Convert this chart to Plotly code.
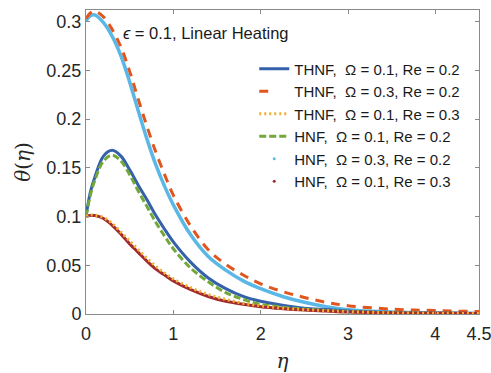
import plotly.graph_objects as go

eta = [0, 0.05, 0.1, 0.2, 0.3, 0.4, 0.5, 0.6, 0.7, 0.8, 0.9, 1.0, 1.2, 1.4, 1.6, 1.8, 2.0, 2.25, 2.5, 2.75, 3.0, 3.5, 4.0, 4.5]

thnf_o01_re02 = [0.100, 0.125, 0.140, 0.162, 0.168, 0.162, 0.148, 0.132, 0.117, 0.101, 0.087, 0.074, 0.053, 0.037, 0.026, 0.018, 0.013, 0.009, 0.006, 0.0045, 0.003, 0.0015, 0.001, 0.0005]
thnf_o03_re02 = [0.303, 0.309, 0.311, 0.305, 0.292, 0.274, 0.249, 0.220, 0.192, 0.166, 0.143, 0.122, 0.090, 0.066, 0.051, 0.040, 0.031, 0.023, 0.017, 0.012, 0.0085, 0.005, 0.0035, 0.0025]
thnf_o01_re03 = [0.100, 0.1015, 0.1015, 0.099, 0.093, 0.084, 0.075, 0.066, 0.057, 0.049, 0.042, 0.036, 0.027, 0.020, 0.015, 0.011, 0.0085, 0.006, 0.0045, 0.0035, 0.0025, 0.0012, 0.0008, 0.0005]
hnf_o01_re02 = [0.100, 0.122, 0.137, 0.157, 0.163, 0.157, 0.143, 0.126, 0.110, 0.094, 0.080, 0.067, 0.047, 0.033, 0.022, 0.015, 0.010, 0.007, 0.005, 0.0035, 0.0025, 0.0012, 0.0008, 0.0005]
hnf_o03_re02 = [0.301, 0.306, 0.307, 0.299, 0.285, 0.265, 0.238, 0.208, 0.179, 0.153, 0.131, 0.112, 0.081, 0.059, 0.045, 0.034, 0.026, 0.018, 0.012, 0.0075, 0.0045, 0.002, 0.001, 0.0005]
hnf_o01_re03 = [0.100, 0.101, 0.101, 0.098, 0.091, 0.082, 0.072, 0.063, 0.054, 0.046, 0.040, 0.034, 0.025, 0.018, 0.013, 0.010, 0.0075, 0.0055, 0.004, 0.003, 0.002, 0.001, 0.0007, 0.0005]

names = ["THNF,  \u03a9 = 0.1, Re = 0.2", "THNF,  \u03a9 = 0.3, Re = 0.2", "THNF,  \u03a9 = 0.1, Re = 0.3",
         "HNF,  \u03a9 = 0.1, Re = 0.2", "HNF,  \u03a9 = 0.3, Re = 0.2", "HNF,  \u03a9 = 0.1, Re = 0.3"]

x_ticks = [0, 1, 2, 3, 4, 4.5]
x_tick_labels = ["0", "1", "2", "3", "4", "4.5"]
y_ticks = [0, 0.05, 0.1, 0.15, 0.2, 0.25, 0.3]
y_tick_labels = ["0", "0.05", "0.1", "0.15", "0.2", "0.25", "0.3"]

FONT = "Arial, Liberation Sans, sans-serif"

fig = go.Figure()

fig.add_trace(go.Scatter(x=eta, y=hnf_o03_re02, mode="lines", line=dict(color="#5BB8E6", width=3.5, shape="spline"),
                         showlegend=False))
fig.add_trace(go.Scatter(x=eta, y=thnf_o03_re02, mode="lines", line=dict(color="#E0561E", width=3, dash="9px,7px", shape="spline"),
                         showlegend=False))
fig.add_trace(go.Scatter(x=eta, y=thnf_o01_re02, mode="lines", line=dict(color="#3461AA", width=3, shape="spline"),
                         showlegend=False))
fig.add_trace(go.Scatter(x=eta, y=hnf_o01_re02, mode="lines", line=dict(color="#72A73A", width=3, dash="7px,3px", shape="spline"),
                         showlegend=False))
fig.add_trace(go.Scatter(x=eta, y=hnf_o01_re03, mode="lines", line=dict(color="#A32A2E", width=3, shape="spline"),
                         showlegend=False))
fig.add_trace(go.Scatter(x=eta, y=thnf_o01_re03, mode="lines", line=dict(color="#F0B030", width=3, dash="2px,3px", shape="spline"),
                         showlegend=False))

fig.add_trace(go.Scatter(x=[None], y=[None], mode="lines", line=dict(color="#3461AA", width=3), name=names[0]))
fig.add_trace(go.Scatter(x=[None], y=[None], mode="lines", line=dict(color="#E0561E", width=3, dash="9px,30px"), name=names[1]))
fig.add_trace(go.Scatter(x=[None], y=[None], mode="lines", line=dict(color="#F0B030", width=3, dash="2px,3px"), name=names[2]))
fig.add_trace(go.Scatter(x=[None], y=[None], mode="lines", line=dict(color="#72A73A", width=3, dash="7px,3px"), name=names[3]))
fig.add_trace(go.Scatter(x=[None], y=[None], mode="markers", marker=dict(color="#5BB8E6", size=3), name=names[4]))
fig.add_trace(go.Scatter(x=[None], y=[None], mode="markers", marker=dict(color="#A32A2E", size=3), name=names[5]))

axis_common = dict(showline=True, linecolor="#8a8a8a", linewidth=1, mirror="ticks", ticks="inside",
                   ticklen=4, tickcolor="#8a8a8a", showgrid=False, zeroline=False, automargin=False,
                   ticklabeloverflow="allow",
                   tickfont=dict(family=FONT, size=18, color="#262626"))

fig.update_layout(
    width=491, height=373,
    margin=dict(l=86, r=12, t=10, b=59),
    paper_bgcolor="white", plot_bgcolor="white",
    xaxis=dict(range=[0, 4.5], tickvals=x_ticks, ticktext=x_tick_labels, ticklabelstandoff=3,
               title=dict(text="<i>\u03b7</i>", font=dict(family="DejaVu Serif, serif", size=20, color="#262626"), standoff=14),
               **axis_common),
    yaxis=dict(range=[0, 0.312], tickvals=y_ticks, ticktext=y_tick_labels,
               title=dict(text="<i>\u03b8</i>(<i>\u03b7</i>)", font=dict(family="DejaVu Serif, serif", size=20, color="#262626"), standoff=10),
               **axis_common),
    legend=dict(x=0.965, y=0.86, xanchor="right", yanchor="top", bgcolor="rgba(0,0,0,0)",
                font=dict(family=FONT, size=15, color="#1a1a1a"), tracegroupgap=0, itemwidth=30),
    showlegend=True,
    annotations=[dict(x=0.09, y=0.925, xref="paper", yref="paper", xanchor="left", yanchor="middle",
                      text="<i>\u03f5</i> = 0.1, Linear Heating", showarrow=False,
                      font=dict(family=FONT, size=16.5, color="#1a1a1a"))],
)

# remove the browser's default page margin so the figure fills the window exactly; hide the mode bar
fig.write_html("out.html", config={"displayModeBar": False},
               post_script="document.body.style.margin='0';document.body.style.overflow='hidden';")
